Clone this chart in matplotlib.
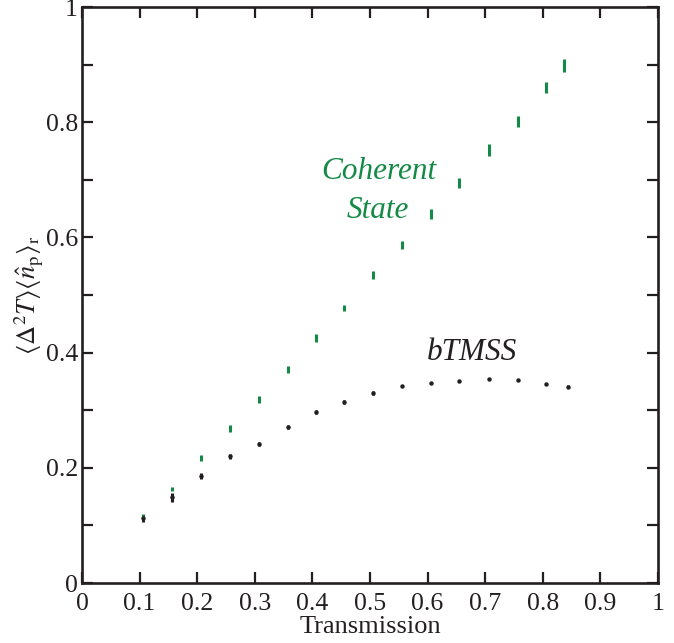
import matplotlib
matplotlib.use("Agg")
import matplotlib.pyplot as plt
import numpy as np

# Data
trans_coh = [0.106, 0.156, 0.207, 0.257, 0.307, 0.358, 0.406, 0.455, 0.505, 0.556, 0.606, 0.655, 0.707, 0.757, 0.806, 0.837]
coh_vals = [0.117, 0.163, 0.217, 0.269, 0.319, 0.370, 0.425, 0.477, 0.535, 0.586, 0.641, 0.694, 0.752, 0.801, 0.860, 0.898]
coh_err = [0.003, 0.004, 0.006, 0.006, 0.006, 0.006, 0.007, 0.005, 0.007, 0.007, 0.009, 0.009, 0.011, 0.010, 0.010, 0.011]

trans_b = [0.106, 0.156, 0.207, 0.257, 0.307, 0.358, 0.406, 0.455, 0.505, 0.556, 0.606, 0.655, 0.707, 0.757, 0.806, 0.843]
b_vals = [0.112, 0.149, 0.186, 0.220, 0.241, 0.271, 0.297, 0.314, 0.330, 0.342, 0.347, 0.351, 0.354, 0.352, 0.346, 0.341]
b_err = [0.006, 0.008, 0.005, 0.004, 0.004, 0.004, 0.003, 0.003, 0.003, 0.002, 0.002, 0.002, 0.002, 0.002, 0.002, 0.002]

xticks = [0, 0.1, 0.2, 0.3, 0.4, 0.5, 0.6, 0.7, 0.8, 0.9, 1]
xticklabels = ["0", "0.1", "0.2", "0.3", "0.4", "0.5", "0.6", "0.7", "0.8", "0.9", "1"]
yticks_major = [0, 0.2, 0.4, 0.6, 0.8, 1]
yticklabels = ["0", "0.2", "0.4", "0.6", "0.8", "1"]
yticks_minor = [0.1, 0.3, 0.5, 0.7, 0.9]

green = "#148a46"
dark = "#231f20"

plt.rcParams['font.family'] = ['Liberation Serif', 'DejaVu Serif']
plt.rcParams['mathtext.fontset'] = 'stix'

fig = plt.figure(figsize=(6.74, 6.43), dpi=100)
ax = fig.add_axes([82/674, 1 - 583/643, 576/674, 576/643])

ax.errorbar(trans_coh, coh_vals, yerr=coh_err, fmt='o', color=green, ms=2.2,
            elinewidth=2.2, capsize=0, mew=0, zorder=3)
ax.errorbar(trans_b, b_vals, yerr=b_err, fmt='o', color=dark, ms=3.2,
            elinewidth=2.2, capsize=0, mew=0, zorder=3)

ax.text(0.516, 0.714, "Coherent", color=green, fontsize=22.5, style='italic',
        ha='center', va='center')
ax.text(0.514, 0.646, "State", color=green, fontsize=22.5, style='italic',
        ha='center', va='center')
ax.text(0.677, 0.401, "bTMSS", color=dark, fontsize=22.5, style='italic',
        ha='center', va='center')

ax.set_xlim(0, 1)
ax.set_ylim(0, 1)
ax.set_xticks(xticks)
ax.set_xticklabels(xticklabels)
ax.set_yticks(yticks_major)
ax.set_yticklabels(yticklabels)
ax.set_yticks(yticks_minor, minor=True)

for s in ax.spines.values():
    s.set_linewidth(1.9)
    s.set_color(dark)

ax.tick_params(which='both', direction='in', top=True, right=True,
               length=8, width=1.6, color=dark, labelsize=18.5, labelcolor=dark)
ax.tick_params(axis='x', pad=7)
ax.tick_params(axis='y', pad=3)

ax.set_xlabel("Transmission", fontsize=19, color=dark, labelpad=1)
ax.set_ylabel(r"$\langle\Delta^2 T\rangle\langle\hat{n}_\mathrm{p}\rangle_\mathrm{r}$",
              fontsize=19, color=dark, labelpad=0)

fig.savefig("out.png", dpi=100)
